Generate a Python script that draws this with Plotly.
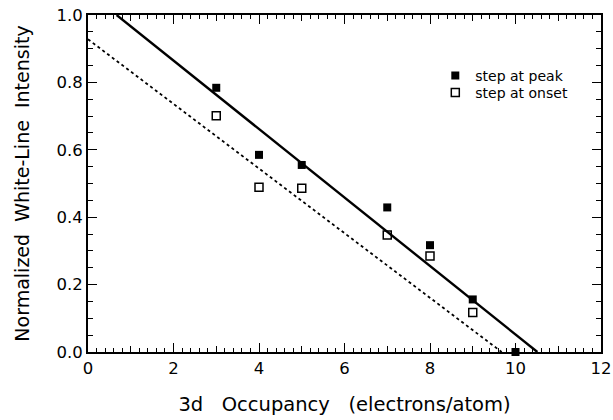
import plotly.graph_objects as go

# Data
occupancy = [3, 4, 5, 7, 8, 9, 10]
peak_vals = [0.784, 0.585, 0.555, 0.429, 0.317, 0.156, 0.0]
onset_occ = [3, 4, 5, 7, 8, 9]
onset_vals = [0.701, 0.489, 0.486, 0.347, 0.285, 0.117]

# Linear fits (slope, intercept)
peak_fit = (-0.1016, 1.068)
onset_fit = (-0.0959, 0.928)

x_range = [0, 12]
y_range = [0, 1.0]

FONT = "DejaVu Sans, Liberation Sans, Arial, sans-serif"
SPX = "\u00a0" * 3
SPY = "\u00a0" * 2

fig = go.Figure()

def fit_line(slope, intercept):
    x0 = max(0, (1.0 - intercept) / slope)
    x1 = -intercept / slope
    return [x0, x1], [slope * x0 + intercept, slope * x1 + intercept]

lx, ly = fit_line(*peak_fit)
fig.add_trace(go.Scatter(x=lx, y=ly, mode="lines", line=dict(color="black", width=2.4),
                         showlegend=False, hoverinfo="skip"))
lx2, ly2 = fit_line(*onset_fit)
fig.add_trace(go.Scatter(x=lx2, y=ly2, mode="lines", line=dict(color="black", width=1.8, dash="3px,3px"),
                         showlegend=False, hoverinfo="skip"))

fig.add_trace(go.Scatter(x=occupancy, y=peak_vals, mode="markers", name="step at peak",
                         marker=dict(symbol="square", size=8, color="black", line=dict(width=0)),
                         cliponaxis=False, legend="legend"))
fig.add_trace(go.Scatter(x=onset_occ, y=onset_vals, mode="markers", name="step at onset",
                         marker=dict(symbol="square-open", size=8, color="black", line=dict(width=1.5)),
                         legend="legend2"))

# invisible overlay axis for medium ticks
fig.add_trace(go.Scatter(x=[0], y=[0], xaxis="x2", yaxis="y", mode="markers",
                         marker=dict(opacity=0), showlegend=False, hoverinfo="skip"))

LEG_X = 0.677
LEG_Y = 0.867
ROW = 17 / 337

fig.update_layout(
    width=613, height=420,
    margin=dict(l=88, r=12, t=15, b=68, autoexpand=False),
    paper_bgcolor="white", plot_bgcolor="white",
    font=dict(family=FONT, color="black", size=14),
    legend=dict(x=LEG_X, y=LEG_Y, xanchor="left", yanchor="top",
                font=dict(size=14, family=FONT), bgcolor="rgba(0,0,0,0)", itemwidth=30),
    legend2=dict(x=LEG_X, y=LEG_Y - ROW, xanchor="left", yanchor="top",
                 font=dict(size=14, family=FONT), bgcolor="rgba(0,0,0,0)", itemwidth=30),
    xaxis=dict(range=x_range, dtick=2, tick0=0, ticks="inside", ticklen=9, tickwidth=1.2,
               showline=True, linewidth=2, linecolor="black", mirror="ticks", showgrid=False,
               zeroline=False, tickcolor="black", automargin=False,
               minor=dict(dtick=0.2, ticks="inside", ticklen=4, tickwidth=1, tickcolor="black"),
               title=dict(text="3d" + SPX + "Occupancy" + SPX + "(electrons/atom)",
                          font=dict(size=19.5), standoff=21),
               tickfont=dict(size=16.5)),
    xaxis2=dict(range=x_range, overlaying="x", dtick=1, tick0=1, ticks="inside", ticklen=6,
                tickwidth=1, tickcolor="black", showticklabels=False, showgrid=False,
                zeroline=False, mirror="ticks", showline=False, side="bottom", automargin=False),
    yaxis=dict(range=y_range, dtick=0.2, tick0=0, ticks="inside", ticklen=9, tickwidth=1.2,
               tickformat=".1f", showline=True, linewidth=2, linecolor="black", mirror="ticks",
               showgrid=False, zeroline=False, tickcolor="black", automargin=False,
               minor=dict(dtick=0.05, ticks="inside", ticklen=5, tickwidth=1, tickcolor="black"),
               title=dict(text="Normalized" + SPY + "White-Line" + SPY + "Intensity",
                          font=dict(size=19), standoff=22),
               tickfont=dict(size=16.5)),
)

fig.write_html("out.html")
